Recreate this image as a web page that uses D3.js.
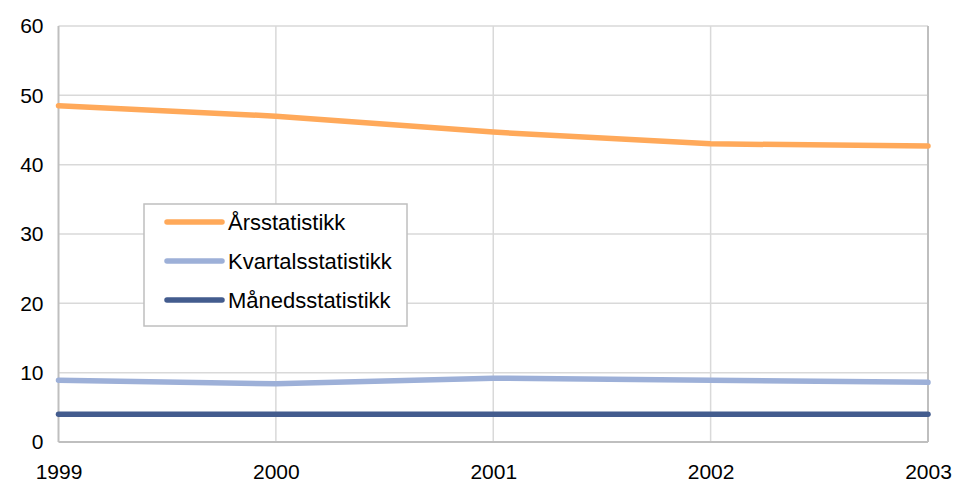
<!DOCTYPE html>
<html><head><meta charset="utf-8">
<script src="https://cdn.jsdelivr.net/npm/d3@7"></script>
<style>body{margin:0;background:#fff}svg{display:block;font-family:"Liberation Sans",Arial,sans-serif}</style>
</head><body><svg id="c" width="954" height="491"></svg>
<script>
const years = [1999, 2000, 2001, 2002, 2003];
const yTicks = [0, 10, 20, 30, 40, 50, 60];
const seriesNames = ["Årsstatistikk", "Kvartalsstatistikk", "Månedsstatistikk"];
const arsValues = [48.5, 47.0, 44.7, 43.0, 42.7];
const kvartalValues = [8.9, 8.4, 9.2, 8.9, 8.6];
const manedValues = [4.0, 4.0, 4.0, 4.0, 4.0];
const colors = ["#FFA95A", "#9DB0D8", "#435C8E"];

const svg = d3.select("#c");
const m = {l: 58.5, r: 928, t: 26, b: 442};
const x = d3.scaleLinear().domain([1999, 2003]).range([m.l, m.r]);
const y = d3.scaleLinear().domain([0, 60]).range([m.b, m.t]);

// gridlines
svg.append("g").selectAll("line").data(yTicks.filter(d => d > 0)).join("line")
  .attr("x1", m.l).attr("x2", m.r).attr("y1", d => y(d)).attr("y2", d => y(d))
  .attr("stroke", "#d9d9d9").attr("stroke-width", 1.5);
svg.append("g").selectAll("line").data(years.slice(1, -1)).join("line")
  .attr("x1", d => x(d)).attr("x2", d => x(d)).attr("y1", m.t).attr("y2", m.b)
  .attr("stroke", "#d9d9d9").attr("stroke-width", 1.5);
// axes frame
svg.append("line").attr("x1", m.l).attr("x2", m.l).attr("y1", m.t).attr("y2", m.b).attr("stroke", "#bfbfbf").attr("stroke-width", 2);
svg.append("line").attr("x1", m.r).attr("x2", m.r).attr("y1", m.t).attr("y2", m.b).attr("stroke", "#bfbfbf").attr("stroke-width", 2);
svg.append("line").attr("x1", m.l).attr("x2", m.r).attr("y1", m.b).attr("y2", m.b).attr("stroke", "#bfbfbf").attr("stroke-width", 2);

// y labels
const yAxis = d3.axisLeft(y).tickValues(yTicks).tickSize(0).tickPadding(15);
const ga = svg.append("g").attr("transform", `translate(${m.l},0)`).call(yAxis);
ga.select(".domain").remove();
ga.selectAll("text").attr("font-size", 21).attr("fill", "#000").attr("font-family", "Liberation Sans, Arial, sans-serif");
// x labels
const xAxis = d3.axisBottom(x).tickValues(years).tickFormat(d3.format("d")).tickSize(0).tickPadding(22);
const gx = svg.append("g").attr("transform", `translate(0,${m.b})`).call(xAxis);
gx.select(".domain").remove();
gx.selectAll("text").attr("font-size", 21).attr("fill", "#000").attr("font-family", "Liberation Sans, Arial, sans-serif");

const allSeries = [arsValues, kvartalValues, manedValues];
const line = d3.line().x((d, i) => x(years[i])).y(d => y(d));
allSeries.forEach((vals, k) => {
  svg.append("path").datum(vals).attr("d", line).attr("fill", "none")
    .attr("stroke", colors[k]).attr("stroke-width", 5.5).attr("stroke-linecap", "round").attr("stroke-linejoin", "round");
});

// legend
const lg = svg.append("g");
lg.append("rect").attr("x", 144).attr("y", 204).attr("width", 263).attr("height", 122)
  .attr("fill", "#fff").attr("stroke", "#bfbfbf").attr("stroke-width", 1.5);
seriesNames.forEach((n, k) => {
  const yy = 222 + k * 39;
  lg.append("line").attr("x1", 167).attr("x2", 222).attr("y1", yy).attr("y2", yy)
    .attr("stroke", colors[k]).attr("stroke-width", 5.5).attr("stroke-linecap", "round");
  lg.append("text").attr("x", 228).attr("y", yy + 8).attr("font-size", 22).text(n);
});
</script></body></html>
